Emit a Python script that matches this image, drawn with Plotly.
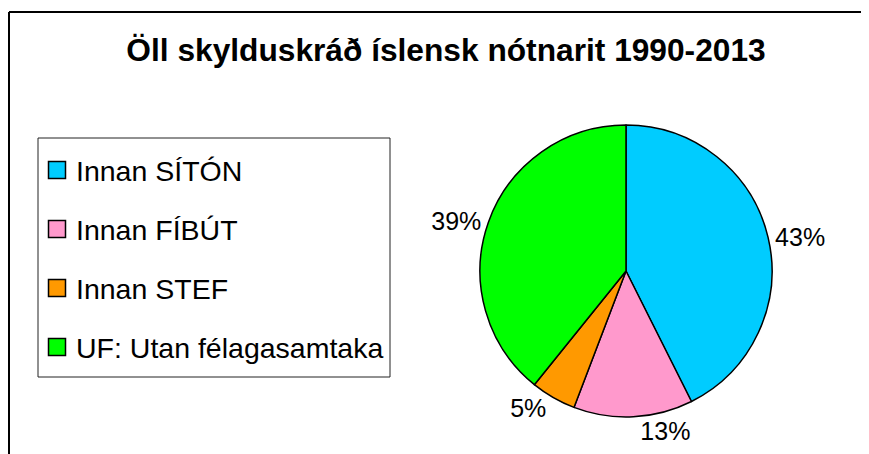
import plotly.graph_objects as go

categories = ["Innan SÍTÓN", "Innan FÍBÚT", "Innan STEF", "UF: Utan félagasamtaka"]
values = [42.6, 13.2, 5.0, 39.2]
colors = ["#00CCFF", "#FF99CC", "#FF9900", "#00FF00"]
title_text = "Öll skylduskráð íslensk nótnarit 1990-2013"

W, H = 869, 454
OFF = 8  # page body margin in the browser
FONT = "Liberation Sans, Arial, sans-serif"


def fx(px):
    return (px - OFF) / W


def fy(py):
    return 1 - (py - OFF) / H


fig = go.Figure(go.Pie(
    labels=categories,
    values=values,
    sort=False,
    direction="clockwise",
    rotation=0,
    marker=dict(colors=colors, line=dict(color="black", width=1.5)),
    textposition="outside",
    texttemplate="%{percent:.0%}",
    textfont=dict(family=FONT, size=25, color="black"),
    domain=dict(x=[fx(480), fx(772)], y=[fy(417), fy(125)]),
    hoverinfo="label+percent",
    showlegend=False,
))

# legend box drawn from the category list
shapes = [
    dict(type="line", xref="paper", yref="paper", x0=fx(8) + 1 / W, x1=1.02, y0=fy(12), y1=fy(12),
         line=dict(color="black", width=2)),
    dict(type="line", xref="paper", yref="paper", x0=fx(8) + 1 / W, x1=fx(8) + 1 / W, y0=fy(12), y1=-0.05,
         line=dict(color="black", width=2)),
    dict(type="rect", xref="paper", yref="paper", x0=fx(38), x1=fx(390), y0=fy(377), y1=fy(138),
         line=dict(color="#222222", width=1), fillcolor="white", layer="below"),
]
annotations = []
row0, step, sq = 170, 59, 17
for i, (cat, col) in enumerate(zip(categories, colors)):
    cy = row0 + i * step
    shapes.append(dict(type="rect", xref="paper", yref="paper",
                       x0=fx(57 - sq / 2), x1=fx(57 + sq / 2),
                       y0=fy(cy + sq / 2), y1=fy(cy - sq / 2),
                       line=dict(color="black", width=1.5), fillcolor=col))
    annotations.append(dict(text=cat, xref="paper", yref="paper", x=fx(74), y=fy(cy + 1),
                            xanchor="left", yanchor="middle", showarrow=False,
                            font=dict(family=FONT, size=28.5, color="black")))

fig.update_layout(
    width=W, height=H,
    margin=dict(l=0, r=0, t=0, b=0),
    paper_bgcolor="white",
    plot_bgcolor="white",
    font=dict(family=FONT, color="black"),
    title=dict(text=title_text, x=fx(446), xanchor="center", y=fy(50), yanchor="middle",
               font=dict(family=FONT, size=31.7, color="black", weight="bold")),
    shapes=shapes,
    annotations=annotations,
    showlegend=False,
)

fig.write_html("out.html")
